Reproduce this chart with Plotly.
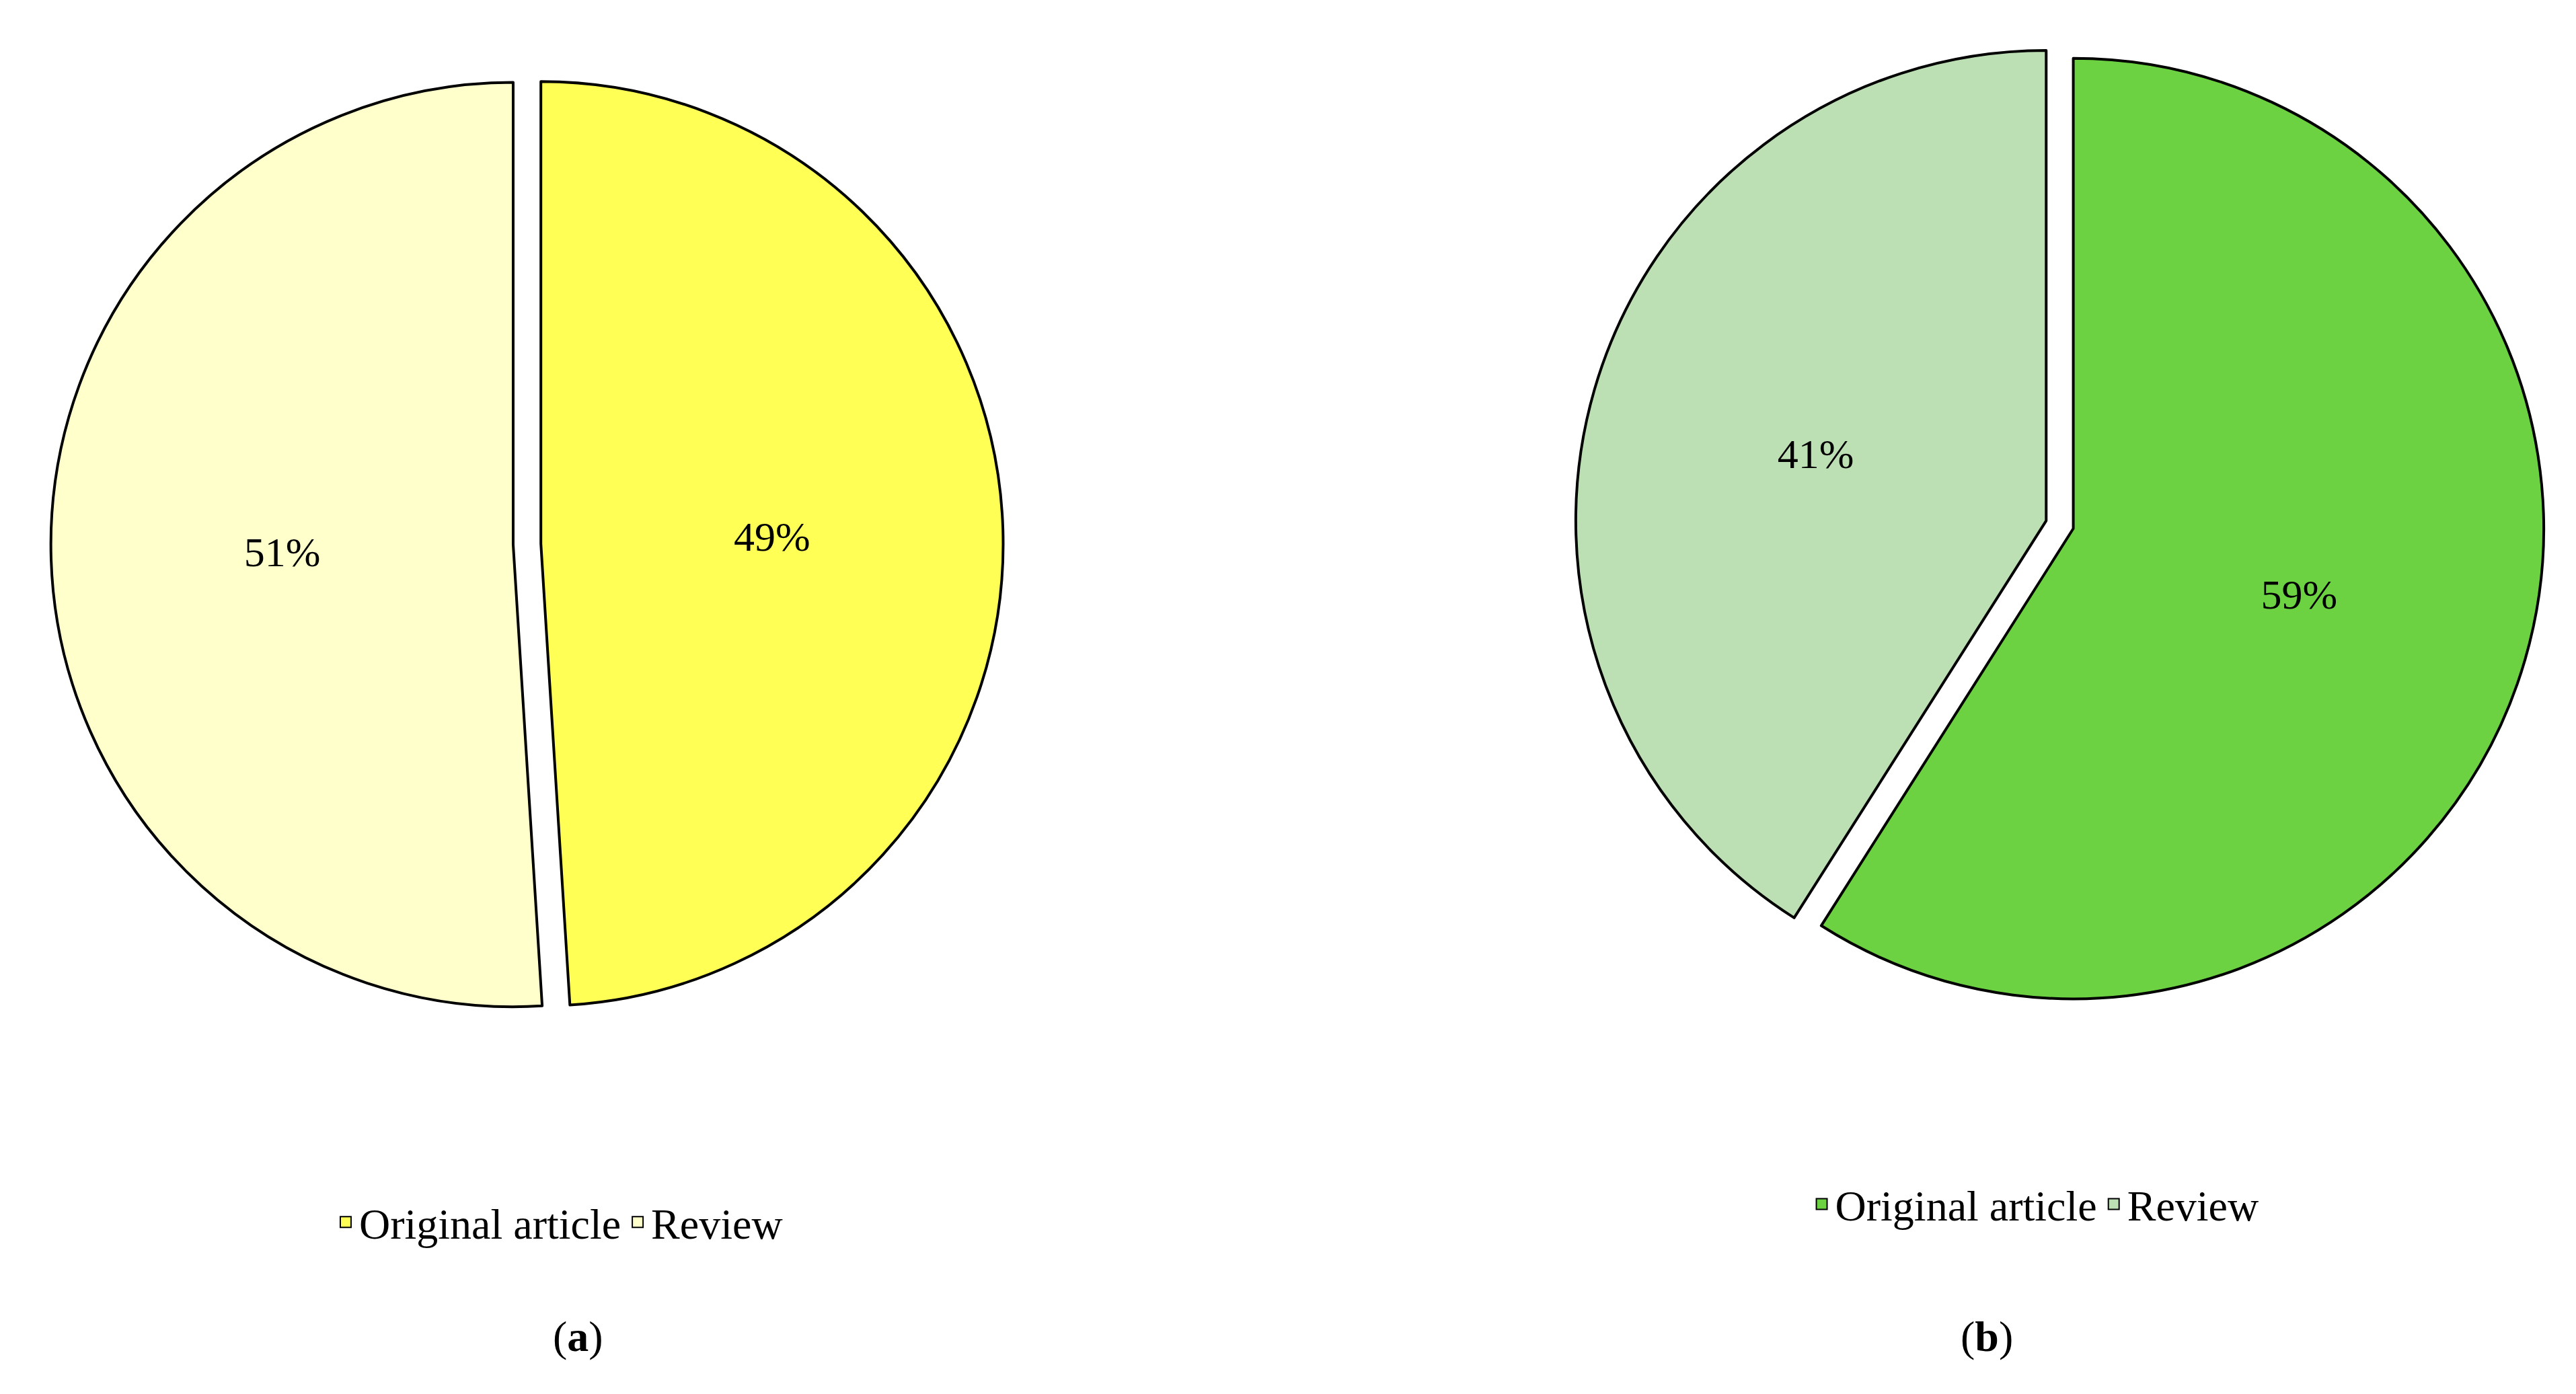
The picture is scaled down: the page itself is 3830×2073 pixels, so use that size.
import plotly.graph_objects as go

labels = ["Original article", "Review"]
values_a = [49, 51]
values_b = [59, 41]
colors_a = ["#FFFF55", "#FFFFCC"]
colors_b = ["#6CD242", "#BCE0B4"]

font = "Liberation Serif"
fig = go.Figure()
fig.add_trace(go.Pie(labels=labels, values=values_a, sort=False, direction="clockwise", rotation=0,
                     pull=[0.03, 0.03], marker=dict(colors=colors_a, line=dict(color="black", width=4)),
                     textinfo="percent", textposition="inside", insidetextorientation="horizontal",
                     textfont=dict(size=62, color="black", family=font), showlegend=False,
                     domain=dict(x=[0.0, 0.405], y=[0.272, 0.955])))
fig.add_trace(go.Pie(labels=labels, values=values_b, sort=False, direction="clockwise", rotation=0,
                     pull=[0.03, 0.03], marker=dict(colors=colors_b, line=dict(color="black", width=4)),
                     textinfo="percent", textposition="inside", insidetextorientation="horizontal",
                     textfont=dict(size=62, color="black", family=font), showlegend=False,
                     domain=dict(x=[0.605, 0.99], y=[0.28, 0.975])))
for lab, c in zip(labels, colors_a):
    fig.add_trace(go.Scatter(x=[None], y=[None], mode="markers", name=lab, legend="legend",
                             marker=dict(symbol="square", size=16, color=c, line=dict(color="black", width=2))))
for lab, c in zip(labels, colors_b):
    fig.add_trace(go.Scatter(x=[None], y=[None], mode="markers", name=lab, legend="legend2",
                             marker=dict(symbol="square", size=16, color=c, line=dict(color="black", width=2))))
leg = dict(orientation="h", font=dict(size=64, family=font, color="black"),
           xanchor="center", yanchor="middle", bgcolor="rgba(0,0,0,0)", itemsizing="trace")
fig.update_layout(
    width=3830, height=2073, margin=dict(l=0, r=0, t=0, b=0),
    paper_bgcolor="white", plot_bgcolor="white", font=dict(family=font, color="black"),
    xaxis=dict(visible=False), yaxis=dict(visible=False),
    legend=dict(leg, x=0.215, y=0.127),
    legend2=dict(leg, x=0.788, y=0.14),
    annotations=[
        dict(text="(<b>a</b>)", x=0.212, y=0.027, xref="paper", yref="paper", showarrow=False,
             font=dict(size=64, family=font)),
        dict(text="(<b>b</b>)", x=0.78, y=0.027, xref="paper", yref="paper", showarrow=False,
             font=dict(size=64, family=font)),
    ],
)
fig.write_html("out.html")
